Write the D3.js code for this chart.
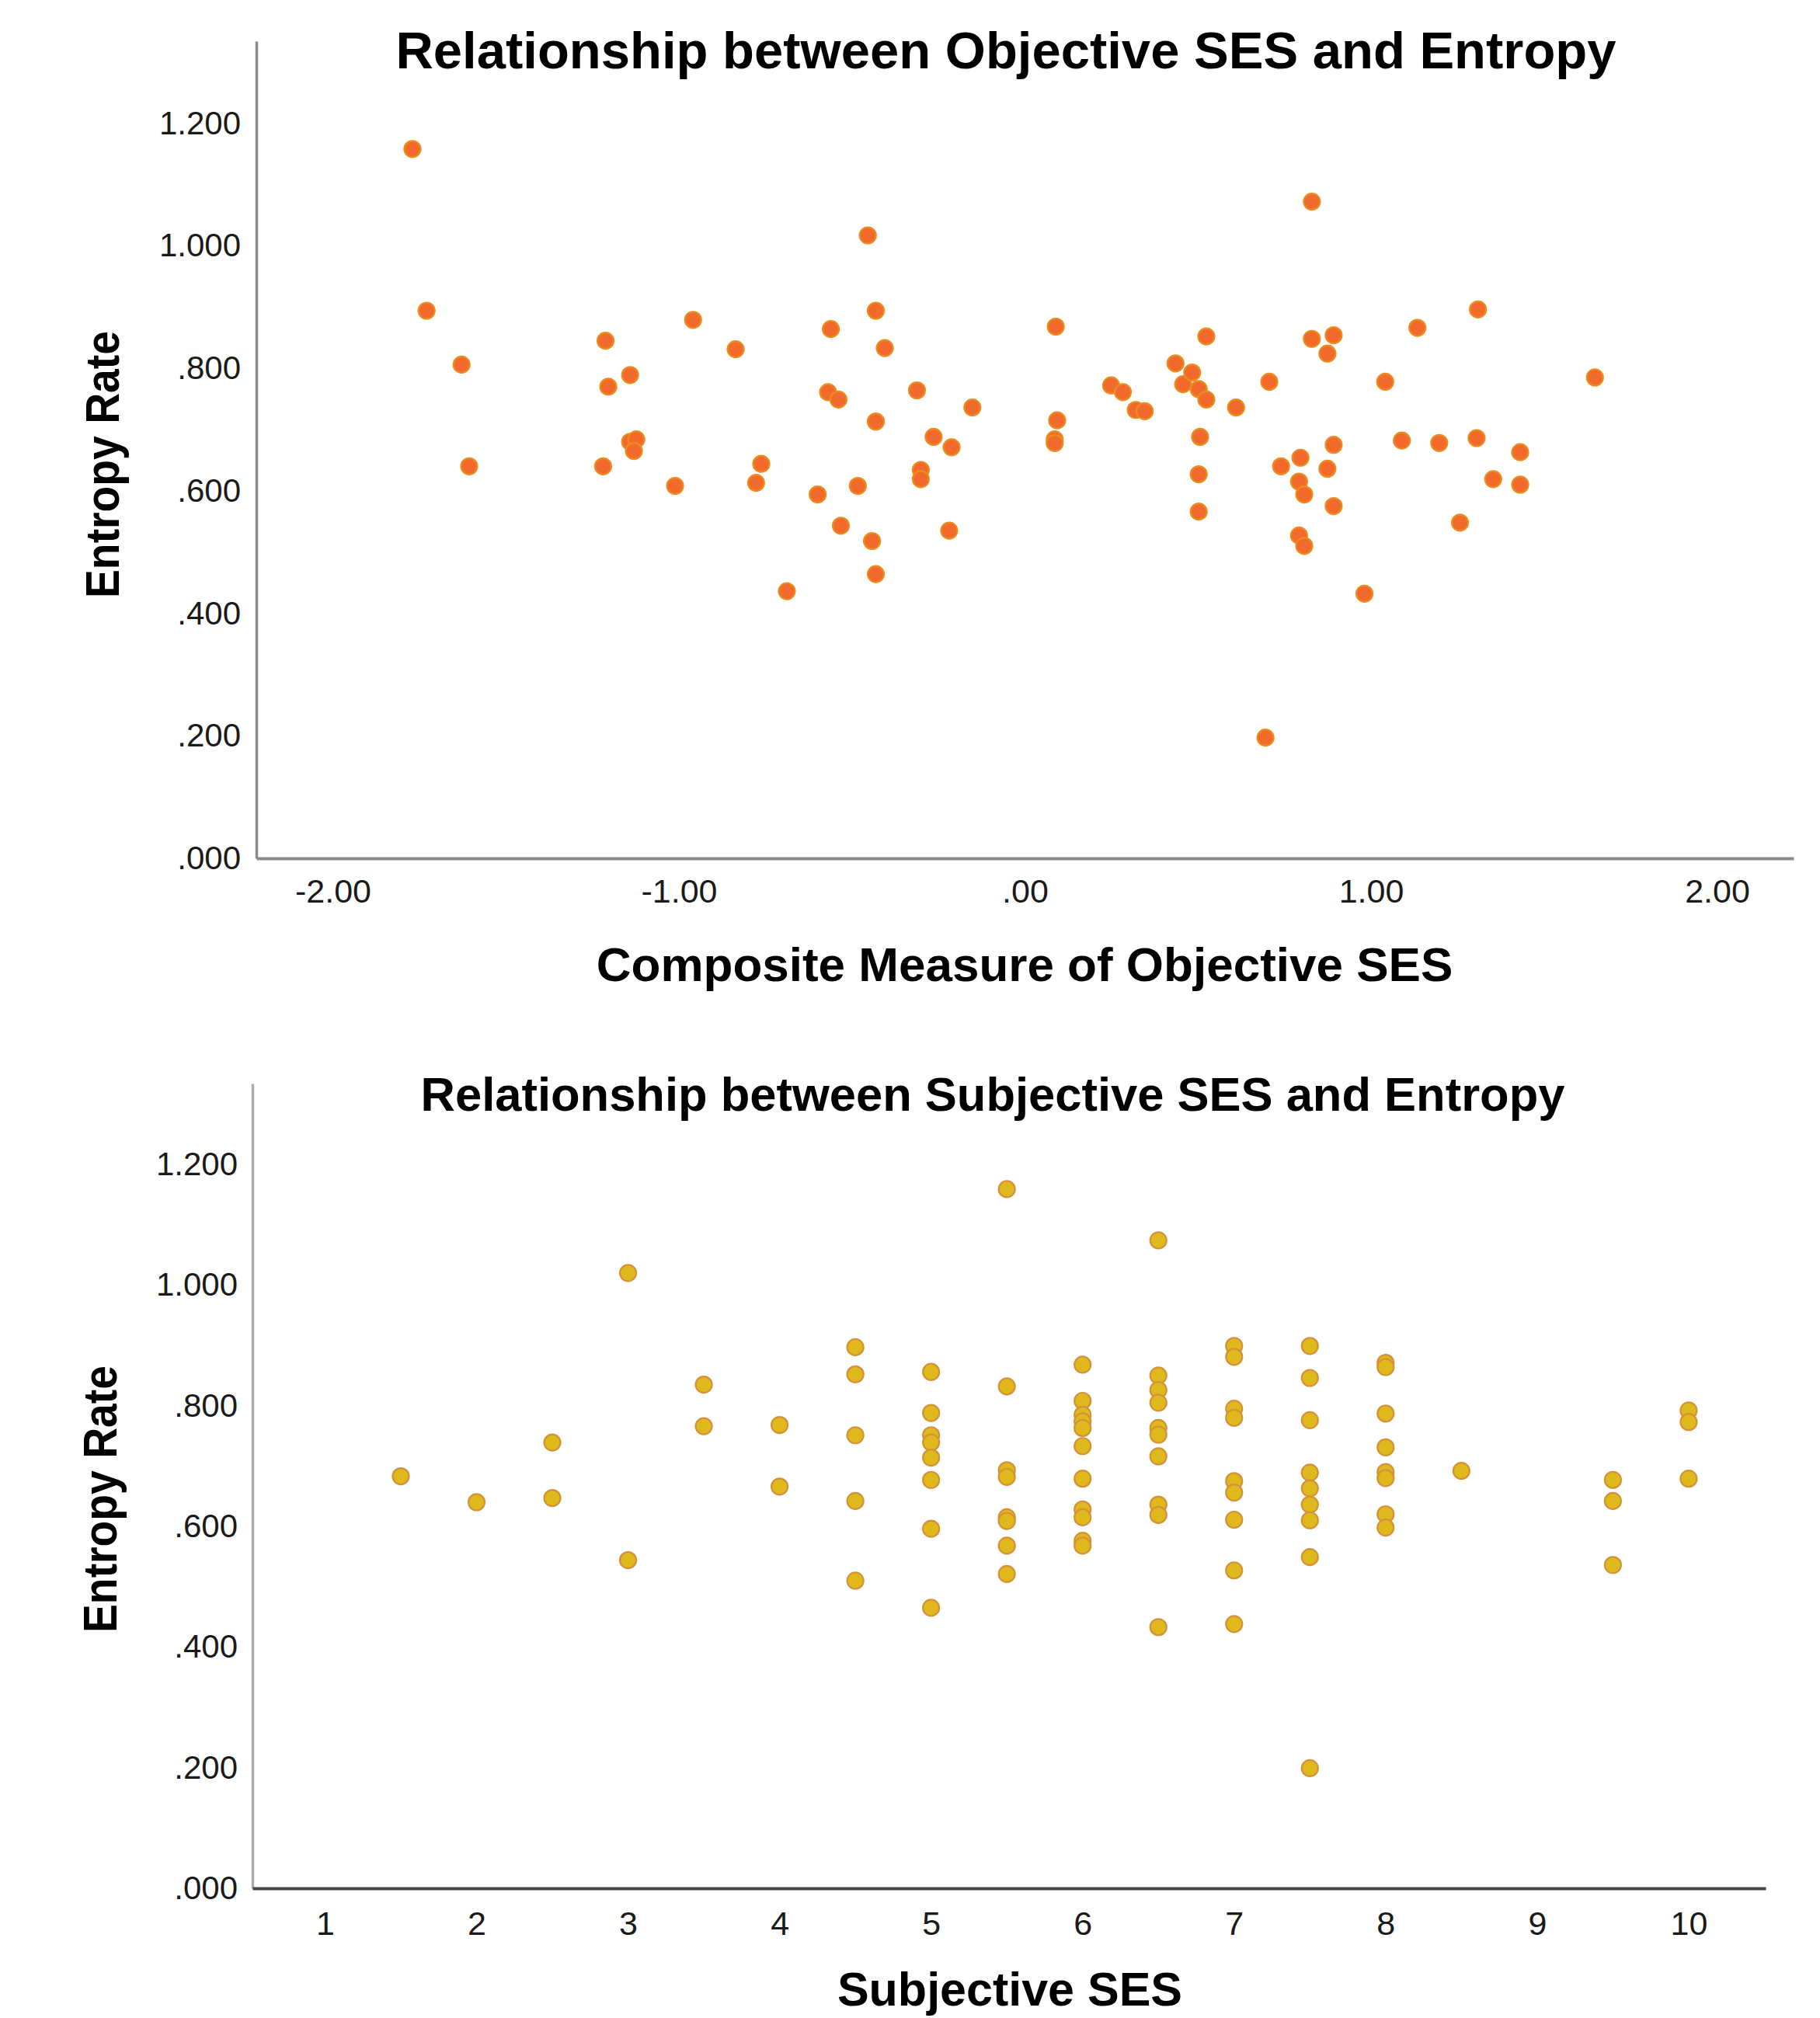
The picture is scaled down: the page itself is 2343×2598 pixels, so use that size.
<!DOCTYPE html>
<html>
<head>
<meta charset="utf-8">
<script src="https://cdn.jsdelivr.net/npm/d3@7"></script>
<style>
  body { margin: 0; background: #fff; }
  svg { display: block; }
  text { font-family: "Liberation Sans", Arial, sans-serif; }
</style>
</head>
<body>
<svg id="chart" width="2343" height="2598"></svg>
<script>
// tick labels
const entropyTicks = [0, 0.2, 0.4, 0.6, 0.8, 1.0, 1.2];
const objectiveTicks = [-2, -1, 0, 1, 2];
const subjectiveTicks = [1, 2, 3, 4, 5, 6, 7, 8, 9, 10];

// top panel: composite objective SES vs entropy rate
const objectiveSES = [
  -1.770, -1.729, -1.628, -1.606, -1.212, -1.204, -1.219, -1.141, -1.141, -1.123,
  -1.130, -1.011, -0.959, -0.836, -0.777, -0.762, -0.688, -0.599, -0.569, -0.561,
  -0.539, -0.532, -0.483, -0.454, -0.442, -0.431, -0.431, -0.431, -0.405, -0.312,
  -0.301, -0.301, -0.264, -0.219, -0.212, -0.152, 0.089, 0.093, 0.086, 0.086,
  0.249, 0.283, 0.320, 0.346, 0.435, 0.457, 0.483, 0.502, 0.524, 0.524,
  0.506, 0.502, 0.502, 0.610, 0.695, 0.706, 0.740, 0.796, 0.792, 0.807,
  0.792, 0.807, 0.829, 0.829, 0.874, 0.892, 0.874, 0.892, 0.892, 0.981,
  1.041, 1.089, 1.134, 1.197, 1.257, 1.305, 1.309, 1.353, 1.431, 1.431,
  1.647
];
const objectiveEntropy = [
  1.158, 0.894, 0.806, 0.640, 0.845, 0.770, 0.640, 0.789, 0.680, 0.684,
  0.665, 0.608, 0.879, 0.831, 0.613, 0.644, 0.436, 0.594, 0.761, 0.864,
  0.749, 0.543, 0.608, 1.017, 0.518, 0.894, 0.713, 0.464, 0.833, 0.764,
  0.634, 0.619, 0.688, 0.535, 0.671, 0.736, 0.868, 0.715, 0.684, 0.678,
  0.772, 0.761, 0.732, 0.730, 0.808, 0.774, 0.793, 0.766, 0.749, 0.852,
  0.688, 0.627, 0.566, 0.736, 0.197, 0.778, 0.640, 0.654, 0.615, 0.594,
  0.527, 0.510, 1.072, 0.848, 0.824, 0.854, 0.636, 0.675, 0.575, 0.432,
  0.778, 0.682, 0.866, 0.678, 0.548, 0.686, 0.896, 0.619, 0.663, 0.610,
  0.785
];

// bottom panel: subjective SES (ladder) vs entropy rate
const subjectiveSES = [
  1.5,
  2,
  2.5, 2.5,
  3, 3,
  3.5, 3.5,
  4, 4,
  4.5, 4.5, 4.5, 4.5, 4.5,
  5, 5, 5, 5, 5, 5, 5, 5,
  5.5, 5.5, 5.5, 5.5, 5.5, 5.5, 5.5, 5.5,
  6, 6, 6, 6, 6, 6, 6, 6, 6, 6, 6,
  6.5, 6.5, 6.5, 6.5, 6.5, 6.5, 6.5, 6.5, 6.5, 6.5,
  7, 7, 7, 7, 7, 7, 7, 7, 7,
  7.5, 7.5, 7.5, 7.5, 7.5, 7.5, 7.5, 7.5, 7.5,
  8, 8, 8, 8, 8, 8, 8, 8,
  8.5,
  9.5, 9.5, 9.5,
  10, 10, 10
];
const subjectiveEntropy = [
  0.683,
  0.640,
  0.739, 0.647,
  1.020, 0.544,
  0.835, 0.766,
  0.768, 0.666,
  0.897, 0.852, 0.751, 0.642, 0.510,
  0.856, 0.788, 0.751, 0.739, 0.714, 0.677, 0.596, 0.465,
  1.159, 0.832, 0.693, 0.682, 0.615, 0.609, 0.568, 0.521,
  0.868, 0.808, 0.785, 0.774, 0.763, 0.733, 0.679, 0.628, 0.615, 0.576, 0.568,
  1.074, 0.850, 0.826, 0.805, 0.763, 0.752, 0.716, 0.636, 0.619, 0.433,
  0.899, 0.881, 0.795, 0.780, 0.675, 0.656, 0.611, 0.527, 0.438,
  0.899, 0.846, 0.776, 0.689, 0.663, 0.636, 0.610, 0.549, 0.199,
  0.871, 0.864, 0.787, 0.731, 0.690, 0.680, 0.620, 0.598,
  0.692,
  0.677, 0.642, 0.536,
  0.792, 0.773, 0.679
];

const svg = d3.select('#chart');

const fmtEntropy = v => d3.format('.3f')(v).replace(/^0\./, '.');
const fmtObjective = v => d3.format('.2f')(v).replace('\u2212', '-').replace(/^(-?)0\./, '$1.');

function drawScatter(cfg) {
  const g = svg.append('g');

  const xScale = d3.scaleLinear().domain(cfg.xDomain).range([cfg.left, cfg.right]);
  const yScale = d3.scaleLinear().domain([0, 1.334]).range([cfg.bottom, cfg.top]);

  // y axis
  const yAxis = g.append('g')
    .attr('transform', `translate(${cfg.left},0)`)
    .call(d3.axisLeft(yScale).tickValues(entropyTicks).tickFormat(fmtEntropy)
      .tickSize(0).tickSizeOuter(0).tickPadding(cfg.yPad));
  yAxis.select('.domain').attr('stroke', cfg.yAxisColor).attr('stroke-width', 3.5);
  yAxis.selectAll('text')
    .attr('font-size', 42).attr('fill', '#1a1a1a')
    .attr('font-family', '"Liberation Sans", Arial, sans-serif');

  // x axis
  const xAxis = g.append('g')
    .attr('transform', `translate(0,${cfg.bottom})`)
    .call(d3.axisBottom(xScale).tickValues(cfg.xTicks).tickFormat(cfg.xFormat)
      .tickSize(0).tickSizeOuter(0).tickPadding(cfg.xPad));
  xAxis.select('.domain').attr('stroke', cfg.xAxisColor).attr('stroke-width', 4);
  xAxis.selectAll('text')
    .attr('font-size', 43).attr('fill', '#1a1a1a')
    .attr('font-family', '"Liberation Sans", Arial, sans-serif');

  // points
  g.append('g').selectAll('circle')
    .data(cfg.xs.map((d, i) => [d, cfg.ys[i]]))
    .enter()
    .append('circle')
    .attr('cx', d => xScale(d[0]))
    .attr('cy', d => yScale(d[1]))
    .attr('r', 10.5)
    .attr('fill', cfg.fill)
    .attr('stroke', cfg.stroke)
    .attr('stroke-width', 2.2);

  // titles
  g.append('text')
    .text(cfg.title)
    .attr('x', cfg.titleX).attr('y', cfg.titleY)
    .attr('text-anchor', 'middle')
    .attr('font-size', cfg.titleSize).attr('font-weight', 'bold');

  g.append('text')
    .text(cfg.xLabel)
    .attr('x', cfg.xLabelX).attr('y', cfg.xLabelY)
    .attr('text-anchor', 'middle')
    .attr('font-size', cfg.xLabelSize).attr('font-weight', 'bold');

  g.append('text')
    .text('Entropy Rate')
    .attr('transform', `translate(${cfg.yLabelX},${cfg.yLabelY}) rotate(-90)`)
    .attr('text-anchor', 'middle')
    .attr('font-size', 62).attr('font-weight', 'bold')
    .attr('textLength', 344).attr('lengthAdjust', 'spacingAndGlyphs');
}

drawScatter({
  left: 330, right: 2309, top: 53, bottom: 1105,
  xDomain: [-2.221, 2.221], xTicks: objectiveTicks, xFormat: fmtObjective,
  xs: objectiveSES, ys: objectiveEntropy,
  fill: '#f26a2b', stroke: '#eb8c1e',
  xAxisColor: '#8a8a8a', yAxisColor: '#8a8a8a',
  xPad: 26, yPad: 20,
  title: 'Relationship between Objective SES and Entropy',
  titleX: 1295, titleY: 88, titleSize: 67,
  xLabel: 'Composite Measure of Objective SES', xLabelX: 1319, xLabelY: 1263, xLabelSize: 62,
  yLabelX: 153, yLabelY: 598
});

drawScatter({
  left: 325, right: 2273, top: 1395, bottom: 2431,
  xDomain: [0.521, 10.508], xTicks: subjectiveTicks, xFormat: d3.format('d'),
  xs: subjectiveSES, ys: subjectiveEntropy,
  fill: '#dfb91b', stroke: '#d4913a',
  xAxisColor: '#444444', yAxisColor: '#aaaaaa',
  xPad: 29, yPad: 19,
  title: 'Relationship between Subjective SES and Entropy',
  titleX: 1278, titleY: 1430, titleSize: 61.5,
  xLabel: 'Subjective SES', xLabelX: 1300, xLabelY: 2582, xLabelSize: 61,
  yLabelX: 150, yLabelY: 1930
});
</script>
</body>
</html>
